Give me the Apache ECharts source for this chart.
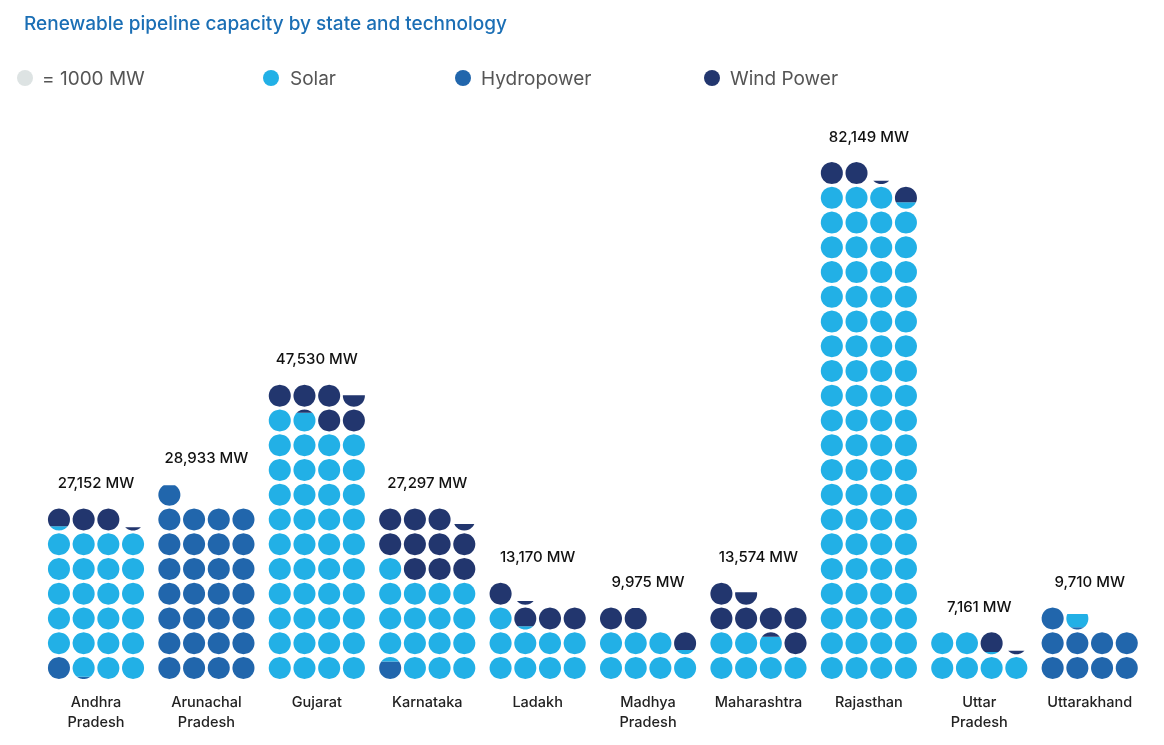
<!DOCTYPE html>
<html><head><meta charset="utf-8">
<script src="https://cdn.jsdelivr.net/npm/echarts@6/dist/echarts.min.js"></script>
<style>html,body{margin:0;background:#fff}#c{width:1164px;height:745px}</style>
</head><body><div id="c"></div>
<script>
const states = ['Andhra\nPradesh','Arunachal\nPradesh','Gujarat','Karnataka','Ladakh','Madhya\nPradesh','Maharashtra','Rajasthan','Uttar\nPradesh','Uttarakhand'];
const totals = [27152, 28933, 47530, 27297, 13170, 9975, 13574, 82149, 7161, 9710];
// stacking order: hydro, solar, wind (MW)
const hydro = [1100, 28933, 0, 800, 0, 0, 0, 0, 0, 9100];
const solar = [23100, 0, 41850, 16200, 9150, 7200, 6800, 79300, 6100, 610];
const wind  = [2952, 0, 5680, 10297, 4020, 2775, 6774, 2849, 1061, 0];
const unitMW = 1000;
const colors = ['#2166ac', '#22b0e6', '#22366e'];
const COLS = 4, GROUP = 4.47;

const dots = [];
states.forEach((s, i) => {
  const total = (hydro[i] + solar[i] + wind[i]) / unitMW;
  const n = Math.ceil(total);
  for (let k = 0; k < n; k++) dots.push([i * GROUP + (k % COLS), Math.floor(k / COLS), i, k]);
});
const labels = states.map((s, i) => {
  const total = (hydro[i] + solar[i] + wind[i]) / unitMW;
  return [i * GROUP + 1.5, Math.floor((Math.ceil(total) - 1) / COLS), i];
});

function band(cx, cy, r, tA, tB, color) {
  const yTop = r - 2 * r * tB, yBot = r - 2 * r * tA;
  const pts = [], N = 24;
  for (let j = 0; j <= N; j++) { const y = yTop + (yBot - yTop) * j / N; pts.push([cx + Math.sqrt(Math.max(0, r * r - y * y)), cy + y]); }
  for (let j = N; j >= 0; j--) { const y = yTop + (yBot - yTop) * j / N; pts.push([cx - Math.sqrt(Math.max(0, r * r - y * y)), cy + y]); }
  return { type: 'polygon', shape: { points: pts }, style: { fill: color } };
}

const chart = echarts.init(document.getElementById('c'));
chart.setOption({
  animation: false,
  title: { text: 'Renewable pipeline capacity by state and technology', left: 19, top: 10,
    textStyle: { color: '#1b6fb5', fontSize: 19, fontWeight: 500, fontFamily: 'Inter' } },
  grid: { left: 46.6, right: 1164 - 1139.1, top: 148.3, bottom: 64.6 },
  xAxis: { type: 'value', min: -0.5, max: 9 * GROUP + 3.5, show: false },
  yAxis: { type: 'value', min: -0.5, max: 21, show: false },
  graphic: [
    { type: 'circle', shape: { cx: 25, cy: 78, r: 8 }, style: { fill: '#dde3e3' } },
    { type: 'text', x: 42, y: 79, style: { text: '= 1000 MW', fill: '#555', fontSize: 19, fontFamily: 'Inter', verticalAlign: 'middle' } },
    { type: 'circle', shape: { cx: 271, cy: 78, r: 8 }, style: { fill: colors[1] } },
    { type: 'text', x: 290, y: 79, style: { text: 'Solar', fill: '#555', fontSize: 19, fontFamily: 'Inter', verticalAlign: 'middle' } },
    { type: 'circle', shape: { cx: 463, cy: 78, r: 8 }, style: { fill: colors[0] } },
    { type: 'text', x: 481, y: 79, style: { text: 'Hydropower', fill: '#555', fontSize: 19, fontFamily: 'Inter', verticalAlign: 'middle' } },
    { type: 'circle', shape: { cx: 712, cy: 78, r: 8 }, style: { fill: colors[2] } },
    { type: 'text', x: 730, y: 79, style: { text: 'Wind Power', fill: '#555', fontSize: 19, fontFamily: 'Inter', verticalAlign: 'middle' } }
  ],
  series: [{
    type: 'custom', data: dots, encode: { x: 0, y: 1 },
    renderItem(params, api) {
      const p = api.coord([api.value(0), api.value(1)]);
      const i = api.value(2), k = api.value(3);
      const r = 11;
      const vals = [hydro[i], solar[i], wind[i]].map(v => v / unitMW);
      const children = [];
      let acc = 0;
      vals.forEach((v, t) => {
        const a = Math.max(acc, k), b = Math.min(acc + v, k + 1);
        if (b > a) children.push(band(p[0], p[1], r, a - k, b - k, colors[t]));
        acc += v;
      });
      return { type: 'group', children };
    }
  }, {
    type: 'custom', data: labels, encode: { x: 0, y: 1 },
    renderItem(params, api) {
      const p = api.coord([api.value(0), api.value(1)]);
      const b = api.coord([api.value(0), 0]);
      const i = api.value(2);
      return { type: 'group', children: [
        { type: 'text', x: p[0], y: p[1] - 36, style: { text: totals[i].toLocaleString('en-US') + ' MW', fill: '#111', fontSize: 15, fontWeight: 500, fontFamily: 'Inter', align: 'center', verticalAlign: 'middle' } },
        { type: 'text', x: b[0], y: b[1] + 25, style: { text: states[i], fill: '#222', fontSize: 14.5, fontWeight: 500, fontFamily: 'Inter', align: 'center', verticalAlign: 'top', lineHeight: 20 } }
      ] };
    }
  }]
});
</script></body></html>
